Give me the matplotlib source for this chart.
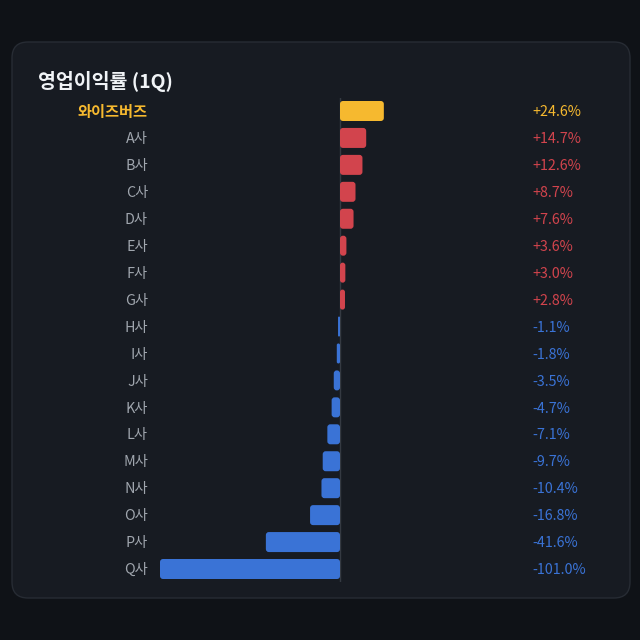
import numpy as np
import matplotlib
matplotlib.use('Agg')
import matplotlib.pyplot as plt
from matplotlib.patches import FancyBboxPatch
import matplotlib.transforms as mtransforms

companies = ['와이즈버즈', 'A사', 'B사', 'C사', 'D사', 'E사', 'F사', 'G사', 'H사',
             'I사', 'J사', 'K사', 'L사', 'M사', 'N사', 'O사', 'P사', 'Q사']
margins = [24.6, 14.7, 12.6, 8.7, 7.6, 3.6, 3.0, 2.8, -1.1,
           -1.8, -3.5, -4.7, -7.1, -9.7, -10.4, -16.8, -41.6, -101.0]
highlight = '와이즈버즈'

BG = '#0f1217'
CARD = '#171b22'
GOLD = '#f6b92f'
RED = '#d2444d'
BLUE = '#3a73d6'
GREY = '#a0a6ae'

plt.rcParams['font.family'] = ['Noto Sans CJK KR', 'DejaVu Sans']

W = H = 640
fig = plt.figure(figsize=(6.4, 6.4), dpi=100, facecolor=BG)

# card
card = FancyBboxPatch((12 / W, 1 - 598 / H), 618 / W, 556 / H,
                      boxstyle='round,pad=0,rounding_size=0.025',
                      transform=fig.transFigure, facecolor=CARD,
                      edgecolor='#272c34', linewidth=1, zorder=-5)
fig.patches.append(card)

fig.text(38 / W, 1 - 81 / H, '영업이익률 (1Q)', color='#f0f3f6',
         fontsize=14, fontweight='bold', va='center', ha='left')

n = len(companies)
row_px = (569 - 111) / (n - 1)
top = 111 - row_px / 2
ax_h = row_px * n
x0_px, x1_px = 160, 600
px_per = (340 - 160) / 101.0
xmin = -101.0
xmax = xmin + (x1_px - x0_px) / px_per

ax = fig.add_axes([x0_px / W, 1 - (top + ax_h) / H, (x1_px - x0_px) / W, ax_h / H])
ax.set_zorder(2)
ax.set_facecolor('none')
ax.set_xlim(xmin, xmax)
ax.set_ylim(n - 0.5, -0.5)
ax.axis('off')

bar_h = 20 / row_px
x_unit = 1 / px_per          # data units per pixel (x)
y_unit = 1 / row_px          # data units per pixel (y)
r = 3 * x_unit

trans_lab = mtransforms.blended_transform_factory(fig.transFigure, ax.transData)
dy = 1.2 * y_unit  # nudge text down slightly
for i, (c, v) in enumerate(zip(companies, margins)):
    if c == highlight:
        col = GOLD
    elif v >= 0:
        col = RED
    else:
        col = BLUE
    left = min(0, v)
    w = abs(v)
    rr = min(r, w / 2)
    patch = FancyBboxPatch((left, i - bar_h / 2), w, bar_h,
                           boxstyle=f'round,pad=0,rounding_size={rr}',
                           mutation_aspect=y_unit / x_unit,
                           facecolor=col, edgecolor='none', zorder=2)
    ax.add_patch(patch)

    if c == highlight:
        ax.text(148 / W, i + dy, c, transform=trans_lab, ha='right', va='center',
                color=GOLD, fontsize=11, fontweight='bold', clip_on=False)
    else:
        ax.text(148 / W, i + dy, c, transform=trans_lab, ha='right', va='center',
                color=GREY, fontsize=10.3, clip_on=False)
    ax.text(532 / W, i + dy, f'{v:+.1f}%', transform=trans_lab, ha='left', va='center',
            color=col, fontsize=10.3, clip_on=False)

ax.plot([0, 0], [-0.5, n - 0.3], color='#353a42', lw=1, zorder=1)

fig.savefig('out.png', dpi=100, facecolor=BG)
